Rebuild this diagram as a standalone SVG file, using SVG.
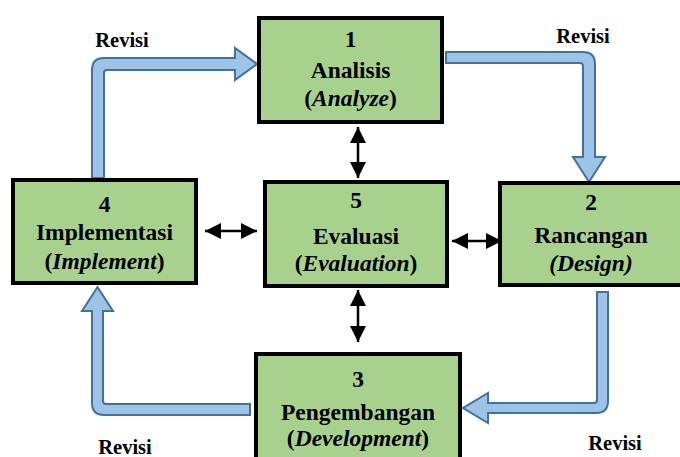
<svg xmlns="http://www.w3.org/2000/svg" width="680" height="457" viewBox="0 0 680 457">
<defs>
<style>
.box{fill:#A9D18E;stroke:#000;stroke-width:4}
.t{font-family:'Liberation Serif','DejaVu Serif',serif;font-weight:700;font-size:23.5px;fill:#000;text-anchor:middle}
.i{font-style:italic}
.rev{font-family:'Liberation Serif','DejaVu Serif',serif;font-weight:700;font-size:20.5px;fill:#000;text-anchor:middle}
.blue{fill:#9DC3E6;stroke:#41719C;stroke-width:2;stroke-linejoin:miter}
.dbl{stroke:#000;stroke-width:2.5;fill:none;marker-start:url(#ah);marker-end:url(#ah)}
</style>
<marker id="ah" markerUnits="userSpaceOnUse" markerWidth="16" markerHeight="16" viewBox="0 0 16 16" refX="16" refY="8" orient="auto-start-reverse">
<path d="M0,0 L16,8 L0,16 Z" fill="#000"/>
</marker>
</defs>
<g id="connectors">
<path class="blue" d="M92,178 L92,70 Q92,58 104,58 L235,58 L235,48 L257,64 L235,80 L235,70 L107,70 Q104,70 104,73 L104,178 Z"/>
<path class="blue" d="M446,52 L583,52 Q595,52 595,64 L595,157 L605,157 L589,182 L573,157 L583,157 L583,66 Q583,63 580,63 L446,63 Z"/>
<path class="blue" d="M597,292 L608,292 L608,401 Q608,413 596,413 L488,413 L488,423 L463,408 L488,393 L488,403 L594,403 Q597,403 597,400 Z"/>
<path class="blue" d="M250,404 L250,415 L104,415 Q92,415 92,403 L92,311 L82,311 L97.5,287 L113,311 L103,311 L103,401 Q103,404 106,404 Z"/>
<line class="dbl" x1="358" y1="127" x2="358" y2="178"/>
<line class="dbl" x1="205" y1="231" x2="257" y2="231"/>
<line class="dbl" x1="452" y1="241" x2="502" y2="241"/>
<line class="dbl" x1="358" y1="290" x2="358" y2="342"/>
<text class="rev" x="122" y="47">Revisi</text>
<text class="rev" x="583" y="43">Revisi</text>
<text class="rev" x="125" y="454">Revisi</text>
<text class="rev" x="615" y="450">Revisi</text>
</g>
<g id="node1">
<rect class="box" x="259" y="18" width="183" height="104"/>
<text class="t" x="350.5" y="47">1</text>
<text class="t" x="350.5" y="78">Analisis</text>
<text class="t" x="350.5" y="106">(<tspan class="i">Analyze</tspan>)</text>
</g>
<g id="node2">
<rect class="box" x="500" y="183" width="186" height="102"/>
<text class="t" x="591" y="210">2</text>
<text class="t" x="591" y="243">Rancangan</text>
<text class="t i" x="591" y="271">(Design)</text>
</g>
<g id="node3">
<rect class="box" x="256" y="354" width="204" height="106"/>
<text class="t" x="358" y="387">3</text>
<text class="t" x="358" y="420">Pengembangan</text>
<text class="t" x="358" y="446">(<tspan class="i">Development</tspan>)</text>
</g>
<g id="node4">
<rect class="box" x="13" y="180" width="183" height="103"/>
<text class="t" x="104.5" y="212">4</text>
<text class="t" x="104.5" y="240">Implementasi</text>
<text class="t" x="104.5" y="269">(<tspan class="i">Implement</tspan>)</text>
</g>
<g id="node5">
<rect class="box" x="265" y="182" width="182" height="104"/>
<text class="t" x="356" y="208">5</text>
<text class="t" x="356" y="244">Evaluasi</text>
<text class="t" x="356" y="271">(<tspan class="i">Evaluation</tspan>)</text>
</g>
</svg>
